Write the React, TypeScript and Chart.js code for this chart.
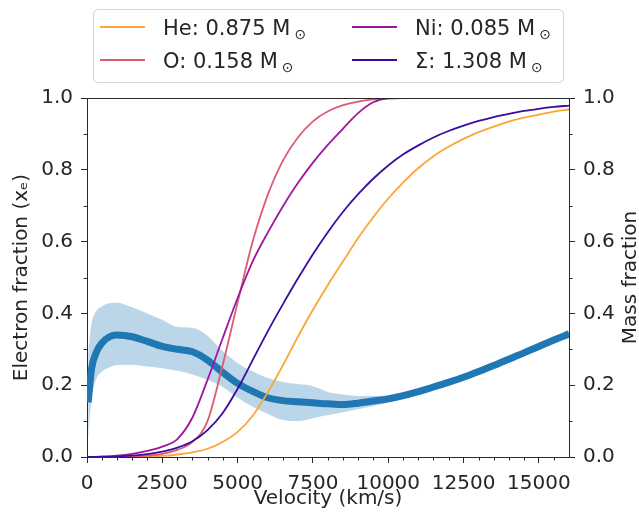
import React, { useEffect, useRef } from "react";
import { Chart, registerables } from "chart.js";

Chart.register(...registerables);

// Velocity grid (km/s) for the mass fractions
const VEL = [
  0, 500, 1000, 1500, 2000, 2500, 3000, 3500, 4000, 4500, 5000, 5500, 6000, 6500, 7000, 7500, 8000,
  8500, 9000, 9500, 10000, 10500, 11000, 11500, 12000, 12500, 13000, 13500, 14000, 14500, 15000, 15500, 16000,
];
const HE = [
  0, 0, 0, 0.001, 0.002, 0.003, 0.007, 0.013, 0.023, 0.042, 0.07, 0.115, 0.18, 0.255, 0.335, 0.41, 0.48,
  0.545, 0.61, 0.668, 0.72, 0.765, 0.805, 0.838, 0.864, 0.886, 0.905, 0.92, 0.934, 0.945, 0.954, 0.962, 0.968,
];
const O = [
  0, 0, 0.001, 0.002, 0.004, 0.009, 0.02, 0.042, 0.1, 0.255, 0.43, 0.6, 0.73, 0.825, 0.89, 0.935, 0.963,
  0.98, 0.99, 0.996, 0.999, 1, 1, 1, 1, 1, 1, 1, 1, 1, 1, 1, 1,
];
const NI = [
  0, 0.001, 0.004, 0.009, 0.017, 0.029, 0.05, 0.11, 0.215, 0.33, 0.443, 0.545, 0.625, 0.698, 0.763, 0.82, 0.87,
  0.915, 0.958, 0.988, 0.999, 1, 1, 1, 1, 1, 1, 1, 1, 1, 1, 1, 1,
];
const SIGMA = [
  0, 0.001, 0.002, 0.004, 0.008, 0.015, 0.026, 0.044, 0.075, 0.122, 0.19, 0.27, 0.35, 0.425, 0.497, 0.565, 0.627,
  0.683, 0.732, 0.775, 0.812, 0.843, 0.868, 0.89, 0.908, 0.923, 0.936, 0.947, 0.956, 0.964, 0.97, 0.975, 0.979,
];

// Electron fraction with its uncertainty band
const EF_VEL = [
  40, 150, 300, 500, 750, 1000, 1500, 2000, 2500, 3000, 3500, 4000, 4500, 5000, 5500, 6000, 6500, 7000,
  7500, 8000, 8500, 9000, 9500, 10000, 10500, 11000, 11500, 12000, 12500, 13000, 13500, 14000, 14500, 15000, 15500, 16000,
];
const EF_MEAN = [
  0.152, 0.245, 0.29, 0.318, 0.335, 0.34, 0.335, 0.322, 0.308, 0.3, 0.293, 0.27, 0.236, 0.205, 0.183, 0.165, 0.157, 0.154,
  0.151, 0.148, 0.146, 0.15, 0.156, 0.162, 0.171, 0.182, 0.195, 0.208, 0.222, 0.238, 0.255, 0.272, 0.29, 0.308, 0.326, 0.343,
];
const EF_UPPER = [
  0.29, 0.37, 0.405, 0.42, 0.428, 0.43, 0.417, 0.4, 0.382, 0.362, 0.36, 0.338, 0.295, 0.262, 0.238, 0.22, 0.209, 0.203,
  0.197, 0.181, 0.174, 0.17, 0.17, 0.172, 0.18, 0.19, 0.203, 0.217, 0.231, 0.247, 0.264, 0.281, 0.299, 0.317, 0.335, 0.352,
];
const EF_LOWER = [
  0.05, 0.16, 0.215, 0.238, 0.25, 0.256, 0.257, 0.252, 0.247, 0.24, 0.23, 0.215, 0.195, 0.165, 0.14, 0.12, 0.103, 0.1,
  0.108, 0.117, 0.125, 0.133, 0.142, 0.151, 0.162, 0.174, 0.187, 0.199, 0.213, 0.229, 0.246, 0.263, 0.281, 0.299, 0.317, 0.334,
];

const X_TICKS = [0, 2500, 5000, 7500, 10000, 12500, 15000];
const X_MINOR_STEP = 500;
const Y_TICKS = [0, 0.2, 0.4, 0.6, 0.8, 1.0];
const Y_MINOR = [0.1, 0.3, 0.5, 0.7, 0.9];

const SERIES_LABELS = ["He: 0.875", "O: 0.158", "Ni: 0.085", "Σ: 1.308"];
const SERIES_COLORS = ["#fca636", "#dd5b70", "#9c179e", "#3c0c9e"];

const X_TITLE = "Velocity (km/s)";
const Y_TITLE = "Electron fraction (xₑ)";
const Y1_TITLE = "Mass fraction";

const FONT = '"DejaVu Sans", sans-serif';
const TEXT = "#262626";
const AXIS = "#2a2a2a";

const pts = (xs: number[], ys: number[]) => xs.map((x, i) => ({ x, y: ys[i] }));

const decorPlugin = {
  id: "decor",
  afterDraw(chart: any) {
    const { ctx, chartArea: a, scales } = chart;
    ctx.save();
    ctx.strokeStyle = AXIS;
    ctx.lineWidth = 1;
    ctx.beginPath();
    ctx.moveTo(a.left, Math.round(a.top) + 0.5);
    ctx.lineTo(a.right, Math.round(a.top) + 0.5);
    ctx.stroke();
    const xs = scales.x;
    ctx.beginPath();
    for (let v = X_MINOR_STEP; v < xs.max; v += X_MINOR_STEP) {
      if (X_TICKS.includes(v)) continue;
      const px = Math.round(xs.getPixelForValue(v)) + 0.5;
      ctx.moveTo(px, a.bottom);
      ctx.lineTo(px, a.bottom + 3.5);
    }
    for (const v of Y_MINOR) {
      const py = Math.round(scales.y.getPixelForValue(v)) + 0.5;
      ctx.moveTo(a.left - 3.5, py);
      ctx.lineTo(a.left, py);
      const py1 = Math.round(scales.y1.getPixelForValue(v)) + 0.5;
      ctx.moveTo(a.right, py1);
      ctx.lineTo(a.right + 3.5, py1);
    }
    ctx.stroke();

    ctx.fillStyle = TEXT;
    ctx.font = `20px ${FONT}`;
    ctx.textAlign = "center";
    ctx.textBaseline = "middle";
    ctx.fillText(X_TITLE, (a.left + a.right) / 2, a.bottom + 42);
    const cy = (a.top + a.bottom) / 2;
    ctx.save();
    ctx.translate(a.left - 65, cy);
    ctx.rotate(-Math.PI / 2);
    ctx.fillText(Y_TITLE, 0, 0);
    ctx.restore();
    ctx.save();
    ctx.translate(a.right + 62, cy);
    ctx.rotate(-Math.PI / 2);
    ctx.fillText(Y1_TITLE, 0, 0);
    ctx.restore();
    ctx.restore();
  },
};

function yAxis(position: "left" | "right", width: number) {
  return {
    type: "linear",
    position,
    min: 0,
    max: 1,
    afterBuildTicks: (s: any) => {
      s.ticks = Y_TICKS.map((v) => ({ value: v }));
    },
    afterFit: (s: any) => {
      s.width = width;
    },
    ticks: {
      color: TEXT,
      font: { family: FONT, size: 20 },
      padding: 8,
      callback: (v: any) => Number(v).toFixed(1),
    },
    grid: { display: true, drawOnChartArea: false, drawTicks: true, tickLength: 6, tickColor: AXIS, lineWidth: 1 },
    border: { display: true, color: AXIS, width: 1 },
  };
}

export default function App() {
  const ref = useRef<HTMLCanvasElement>(null);
  useEffect(() => {
    if (!ref.current) return;
    const elementData = [HE, O, NI, SIGMA];
    const chart = new Chart(ref.current, {
      type: "line",
      data: {
        datasets: [
          {
            label: "upper",
            data: pts(EF_VEL, EF_UPPER),
            yAxisID: "y",
            borderWidth: 0,
            pointRadius: 0,
            fill: "+1",
            backgroundColor: "rgba(31,119,180,0.3)",
            cubicInterpolationMode: "monotone",
            order: 20,
          },
          {
            label: "lower",
            data: pts(EF_VEL, EF_LOWER),
            yAxisID: "y",
            borderWidth: 0,
            pointRadius: 0,
            fill: false,
            cubicInterpolationMode: "monotone",
            order: 19,
          },
          {
            label: "xe",
            data: pts(EF_VEL, EF_MEAN),
            yAxisID: "y",
            borderColor: "#1f77b4",
            borderWidth: 7,
            pointRadius: 0,
            fill: false,
            cubicInterpolationMode: "monotone",
            borderCapStyle: "butt",
            order: 10,
          },
          ...elementData.map((d, i) => ({
            label: SERIES_LABELS[i],
            data: pts(VEL, d),
            yAxisID: "y1",
            borderColor: SERIES_COLORS[i],
            borderWidth: 1.8,
            pointRadius: 0,
            fill: false,
            cubicInterpolationMode: "monotone",
            order: 4 - i,
          })),
        ],
      } as any,
      options: {
        animation: false,
        responsive: false,
        devicePixelRatio: 1,
        layout: { padding: { top: 98, left: 0, right: 0, bottom: 0 } },
        plugins: { legend: { display: false }, tooltip: { enabled: false } },
        scales: {
          x: {
            type: "linear",
            min: 0,
            max: 16000,
            afterBuildTicks: (s: any) => {
              s.ticks = X_TICKS.map((v) => ({ value: v }));
            },
            afterFit: (s: any) => {
              s.height = 58;
            },
            ticks: { color: TEXT, font: { family: FONT, size: 20 }, padding: 9, maxRotation: 0, callback: (v: any) => String(v) },
            grid: { display: true, drawOnChartArea: false, drawTicks: true, tickLength: 6, tickColor: AXIS, lineWidth: 1 },
            border: { display: true, color: AXIS, width: 1 },
          },
          y: yAxis("left", 87),
          y1: yAxis("right", 70),
        },
      } as any,
      plugins: [decorPlugin],
    });
    return () => chart.destroy();
  }, []);

  const legendItems = [
    { i: 0, lineX: 100, textX: 163, row: 0 },
    { i: 1, lineX: 100, textX: 163, row: 1 },
    { i: 2, lineX: 352, textX: 415, row: 0 },
    { i: 3, lineX: 352, textX: 415, row: 1 },
  ];

  return (
    <div style={{ position: "absolute", left: 0, top: 0, width: 639, height: 515, background: "#fff" }}>
      <canvas ref={ref} width={639} height={515} style={{ position: "absolute", left: 0, top: 0, width: 639, height: 515 }} />
      <div
        style={{
          position: "absolute",
          left: 93,
          top: 9,
          width: 469,
          height: 72,
          border: "1px solid #d3d3d3",
          borderRadius: 5,
          background: "rgba(255,255,255,0.8)",
        }}
      />
      {legendItems.map(({ i, lineX, textX, row }) => (
        <React.Fragment key={i}>
          <div
            style={{
              position: "absolute",
              left: lineX,
              top: 26 + row * 33,
              width: 45,
              height: 2,
              background: SERIES_COLORS[i],
            }}
          />
          <div
            style={{
              position: "absolute",
              left: textX,
              top: 16 + row * 33,
              fontFamily: FONT,
              fontSize: 21,
              lineHeight: "24px",
              color: TEXT,
              whiteSpace: "nowrap",
            }}
          >
            {SERIES_LABELS[i]} M
            <span style={{ fontSize: 14, position: "relative", top: 4, marginLeft: 4 }}>⊙</span>
          </div>
        </React.Fragment>
      ))}
    </div>
  );
}
